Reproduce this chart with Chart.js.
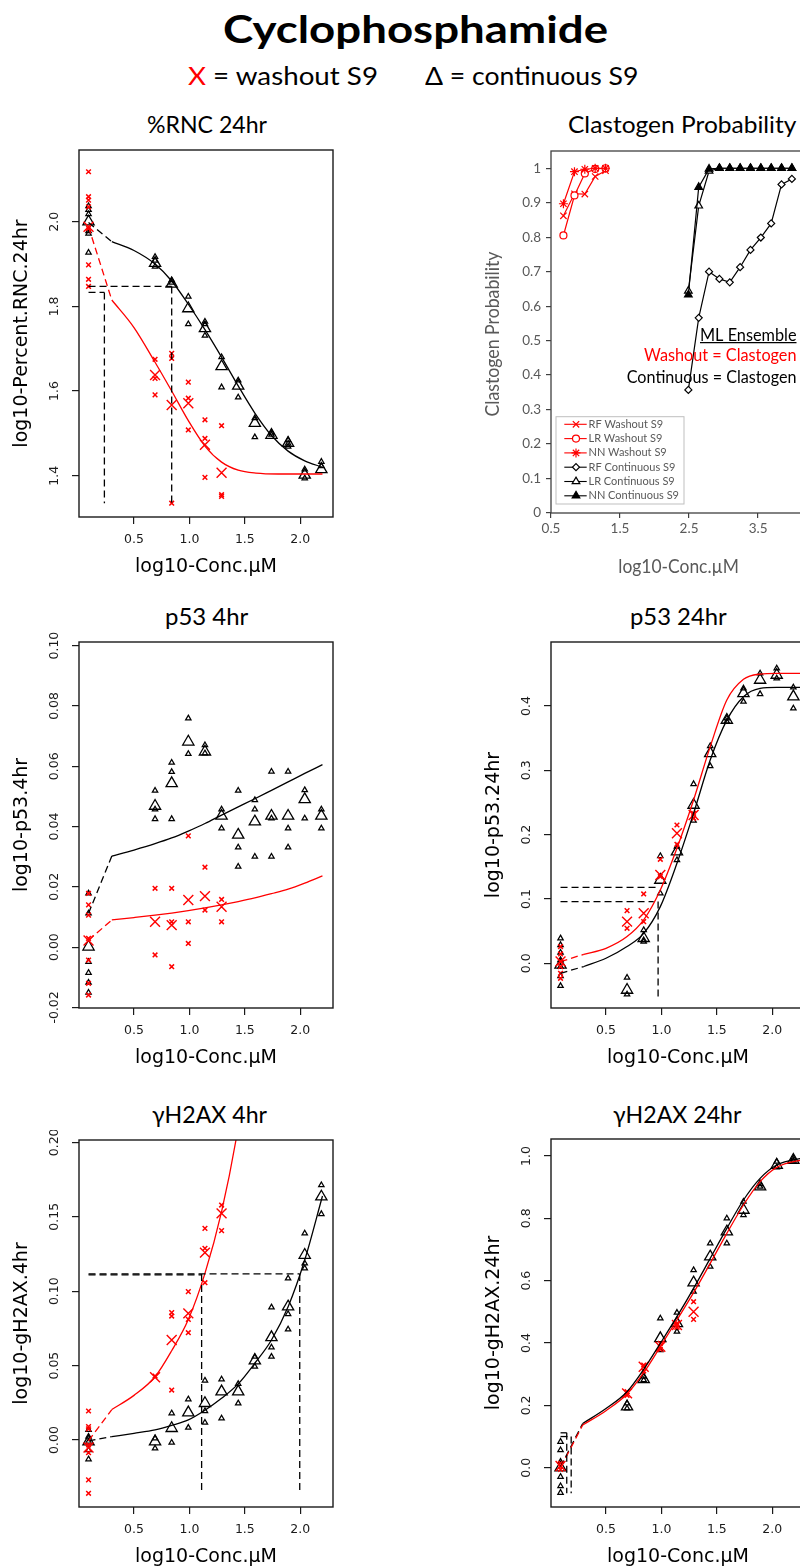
<!DOCTYPE html>
<html>
<head>
<meta charset="utf-8">
<title>Cyclophosphamide</title>
<script src="https://cdn.jsdelivr.net/npm/chart.js@4.4.1/dist/chart.umd.min.js"></script>
<style>
  html, body { margin: 0; padding: 0; background: #fff; }
  body { position: relative; width: 800px; height: 1568px; overflow: hidden; font-family: Lato, "Open Sans", sans-serif; color: #000; }
  .txt { position: absolute; white-space: nowrap; line-height: 1; transform-origin: 0 0; }
  .probe { display: inline-block; width: 0; height: 0; }
  canvas { position: absolute; }
</style>
</head>
<body>
<canvas id="rnc"></canvas>
<canvas id="clast"></canvas>
<canvas id="p53a"></canvas>
<canvas id="p53b"></canvas>
<canvas id="h2axa"></canvas>
<canvas id="h2axb"></canvas>
<script>
const RED = '#ff0000';

// shared x ticks of the R panels (log10 conc, uM)
const concTickLabels = ['0.5', '1.0', '1.5', '2.0'];

// ---- %RNC 24hr ----
const rncYTickLabels = ['1.4', '1.6', '1.8', '2.0'];
const rncContReps = [[0.09,2.037],[0.09,2.028],[0.09,2.018],[0.09,1.978],[0.09,1.972],[0.09,1.927],[0.69,1.917],[0.69,1.908],[0.69,1.894],[0.84,1.862],[0.84,1.856],[0.99,1.823],[0.99,1.758],[1.14,1.764],[1.14,1.758],[1.14,1.731],[1.29,1.680],[1.29,1.609],[1.44,1.625],[1.44,1.585],[1.59,1.536],[1.59,1.491],[1.74,1.502],[1.74,1.497],[1.89,1.484],[1.89,1.476],[1.89,1.469],[2.04,1.415],[2.04,1.394],[2.19,1.433],[2.19,1.423]];
const rncContMeans = [[0.09,2.0],[0.69,1.902],[0.84,1.853],[0.99,1.795],[1.14,1.748],[1.29,1.658],[1.44,1.612],[1.59,1.524],[1.74,1.496],[1.89,1.477],[2.04,1.402],[2.19,1.415]];
const rncWashReps = [[0.09,2.118],[0.09,2.059],[0.09,2.051],[0.09,2.035],[0.09,1.984],[0.09,1.898],[0.09,1.864],[0.09,1.847],[0.69,1.675],[0.69,1.630],[0.69,1.591],[0.84,1.689],[0.84,1.677],[0.84,1.335],[0.99,1.621],[0.99,1.583],[0.99,1.508],[1.14,1.532],[1.14,1.488],[1.14,1.396],[1.29,1.518],[1.29,1.355],[1.29,1.351]];
const rncWashMeans = [[0.09,1.988],[0.69,1.638],[0.84,1.567],[0.99,1.571],[1.14,1.473],[1.29,1.407]];
const rncContFit = [[0.3,1.953],[0.5,1.932],[0.69,1.900],[0.84,1.860],[0.99,1.805],[1.14,1.745],[1.29,1.680],[1.44,1.612],[1.59,1.548],[1.74,1.495],[1.89,1.458],[2.04,1.435],[2.2,1.420]];
const rncWashFit = [[0.3,1.815],[0.5,1.750],[0.69,1.668],[0.84,1.600],[0.99,1.530],[1.14,1.470],[1.29,1.432],[1.44,1.413],[1.6,1.406],[1.8,1.404],[2.2,1.404]];
const rncContLow = [[0.09,1.998],[0.3,1.953]];
const rncWashLow = [[0.09,1.988],[0.3,1.815]];
const rncRefLines = [[[0.09,1.847],[0.84,1.847]],[[0.09,1.833],[0.233,1.833]],[[0.233,1.833],[0.233,1.335]],[[0.84,1.847],[0.84,1.335]]];

// ---- p53 4hr ----
const p53aYTickLabels = ['-0.02', '0.00', '0.02', '0.04', '0.06', '0.08', '0.10'];
const p53aContReps = [[0.09,0.0178],[0.09,0.0112],[0.09,-0.0049],[0.09,-0.0085],[0.09,-0.0118],[0.09,-0.0151],[0.69,0.0519],[0.69,0.0457],[0.69,0.0425],[0.84,0.0612],[0.84,0.0581],[0.84,0.0425],[0.99,0.0759],[0.99,0.0641],[1.14,0.0670],[1.14,0.0643],[1.29,0.0457],[1.29,0.0394],[1.44,0.0519],[1.44,0.0331],[1.44,0.0267],[1.59,0.0488],[1.59,0.0457],[1.59,0.0300],[1.74,0.0582],[1.74,0.0427],[1.74,0.0300],[1.89,0.0582],[1.89,0.0394],[1.89,0.0331],[2.04,0.0521],[2.04,0.0427],[2.19,0.0457],[2.19,0.0394]];
const p53aContMeans = [[0.09,0.0001],[0.69,0.0468],[0.84,0.0543],[0.99,0.0681],[1.14,0.0648],[1.29,0.0435],[1.44,0.0372],[1.59,0.0416],[1.74,0.0435],[1.89,0.0435],[2.04,0.0490],[2.19,0.0435]];
const p53aWashReps = [[0.09,0.0178],[0.09,0.0140],[0.09,0.0106],[0.09,0.0029],[0.09,-0.0043],[0.09,-0.0120],[0.09,-0.0159],[0.69,0.0195],[0.69,-0.0026],[0.84,0.0195],[0.84,0.0084],[0.84,-0.0065],[0.99,0.0369],[0.99,0.0084],[0.99,0.0012],[1.14,0.0265],[1.14,0.0123],[1.29,0.0158],[1.29,0.0084]];
const p53aWashMeans = [[0.09,0.0022],[0.69,0.0084],[0.84,0.0073],[0.99,0.0156],[1.14,0.0169],[1.29,0.0134]];
const p53aContFit = [[0.3,0.0302],[0.5,0.0322],[0.69,0.0343],[0.84,0.0362],[0.99,0.0385],[1.14,0.0410],[1.29,0.0438],[1.44,0.0465],[1.59,0.0492],[1.74,0.0520],[1.89,0.0548],[2.04,0.0576],[2.2,0.0605]];
const p53aWashFit = [[0.3,0.0090],[0.5,0.0098],[0.69,0.0106],[0.84,0.0113],[0.99,0.0121],[1.14,0.0130],[1.29,0.0140],[1.44,0.0151],[1.59,0.0163],[1.74,0.0177],[1.89,0.0192],[2.04,0.0212],[2.2,0.0236]];
const p53aContLow = [[0.09,0.0112],[0.3,0.0302]];
const p53aWashLow = [[0.09,0.0023],[0.3,0.0090]];
const p53aRefLines = [];

// ---- p53 24hr ----
const p53bYTickLabels = ['0.0', '0.1', '0.2', '0.3', '0.4'];
const p53bContReps = [[0.09,0.0389],[0.09,0.0285],[0.09,0.0166],[0.09,0.0052],[0.09,-0.0052],[0.09,-0.0197],[0.09,-0.0352],[0.69,-0.0223],[0.69,-0.0482],[0.84,0.0518],[0.84,0.0360],[0.84,0.0337],[0.99,0.1668],[0.99,0.1088],[1.14,0.1813],[1.14,0.1606],[1.29,0.2788],[1.29,0.2218],[1.44,0.3378],[1.44,0.3067],[1.59,0.3808],[1.59,0.3756],[1.74,0.4275],[1.74,0.4067],[1.89,0.4508],[1.89,0.4187],[2.04,0.4585],[2.04,0.4430],[2.19,0.4290],[2.19,0.3964]];
const p53bContMeans = [[0.09,-0.0026],[0.69,-0.0415],[0.84,0.0389],[0.99,0.1295],[1.14,0.1736],[1.29,0.2461],[1.44,0.3264],[1.59,0.3782],[1.74,0.4197],[1.89,0.4404],[2.04,0.4482],[2.19,0.4145]];
const p53bWashReps = [[0.09,0.0260],[0.09,0.0145],[0.09,0.0026],[0.09,-0.0052],[0.09,-0.0155],[0.09,-0.0233],[0.69,0.0819],[0.69,0.0544],[0.84,0.1078],[0.84,0.0648],[0.99,0.1617],[0.99,0.1347],[1.14,0.2150],[1.14,0.1850],[1.29,0.2332],[1.29,0.2254]];
const p53bWashMeans = [[0.09,0.0030],[0.69,0.0648],[0.84,0.0777],[0.99,0.1373],[1.14,0.2021],[1.29,0.2306]];
const p53bContFit = [[0.3,-0.0050],[0.5,0.0078],[0.69,0.0260],[0.84,0.0466],[0.99,0.0881],[1.14,0.1554],[1.29,0.2332],[1.44,0.3160],[1.59,0.3780],[1.74,0.4145],[1.89,0.4275],[2.04,0.4290],[2.3,0.4290]];
const p53bWashFit = [[0.3,0.0140],[0.5,0.0233],[0.69,0.0415],[0.84,0.0674],[0.99,0.1140],[1.14,0.1788],[1.29,0.2539],[1.44,0.3368],[1.59,0.4093],[1.74,0.4415],[1.89,0.4497],[2.04,0.4508],[2.3,0.4508]];
const p53bContLow = [[0.09,-0.0155],[0.3,-0.0050]];
const p53bWashLow = [[0.09,0.0026],[0.3,0.0140]];
const p53bRefLines = [[[0.09,0.1181],[0.97,0.1181]],[[0.09,0.0959],[0.93,0.0959]],[[0.97,0.0959],[0.97,-0.052]]];

// ---- gH2AX 4hr ----
const h2axaYTickLabels = ['0.00', '0.05', '0.10', '0.15', '0.20'];
const h2axaContReps = [[0.09,0.0068],[0.09,0.0023],[0.09,-0.0011],[0.09,-0.0067],[0.09,-0.0129],[0.69,0.0012],[0.69,-0.0056],[0.84,0.0180],[0.84,-0.0017],[0.99,0.0274],[0.99,0.0083],[1.14,0.0400],[1.14,0.0195],[1.14,0.0117],[1.29,0.0408],[1.29,0.0146],[1.44,0.0377],[1.44,0.0247],[1.59,0.0560],[1.59,0.0493],[1.74,0.0892],[1.74,0.0623],[1.74,0.0560],[1.89,0.1086],[1.89,0.0847],[1.89,0.0744],[2.04,0.1389],[2.04,0.1187],[2.04,0.1154],[2.19,0.1713],[2.19,0.1519]];
const h2axaContMeans = [[0.09,-0.0011],[0.69,-0.0011],[0.84,0.0079],[0.99,0.0184],[1.14,0.0247],[1.29,0.0325],[1.44,0.0325],[1.59,0.0533],[1.74,0.0690],[1.89,0.0896],[2.04,0.1243],[2.19,0.1635]];
const h2axaWashReps = [[0.09,0.0195],[0.09,0.0090],[0.09,0.0075],[0.09,-0.0033],[0.09,-0.0085],[0.09,-0.0268],[0.09,-0.0358],[0.69,0.0430],[0.84,0.0856],[0.84,0.0833],[0.84,0.0336],[0.99,0.0997],[0.99,0.0811],[0.99,0.0721],[1.14,0.1422],[1.14,0.1288],[1.14,0.1057],[1.29,0.1579],[1.29,0.1407]];
const h2axaWashMeans = [[0.09,-0.0050],[0.69,0.0422],[0.84,0.0672],[0.99,0.0851],[1.14,0.1259],[1.29,0.1523]];
const h2axaContFit = [[0.3,0.0023],[0.5,0.0045],[0.69,0.0068],[0.84,0.0098],[0.99,0.0135],[1.14,0.0200],[1.29,0.0280],[1.44,0.0377],[1.59,0.0516],[1.74,0.0672],[1.89,0.0896],[2.04,0.1210],[2.2,0.1640]];
const h2axaWashFit = [[0.3,0.0205],[0.5,0.0300],[0.69,0.0425],[0.84,0.0600],[0.99,0.0810],[1.14,0.1120],[1.29,0.1535],[1.42,0.2016],[1.47,0.2260]];
const h2axaContLow = [[0.09,-0.0005],[0.3,0.0023]];
const h2axaWashLow = [[0.09,-0.0005],[0.3,0.0205]];
const h2axaRefLines = [[[0.09,0.1116],[1.995,0.1116]],[[0.09,0.1110],[1.11,0.1110]],[[1.11,0.1116],[1.11,-0.0358]],[[1.995,0.1116],[1.995,-0.0358]]];

// ---- gH2AX 24hr ----
const h2axbYTickLabels = ['0.0', '0.2', '0.4', '0.6', '0.8', '1.0'];
const h2axbContReps = [[0.09,0.0834],[0.09,0.0567],[0.09,0.0193],[0.09,-0.0289],[0.09,-0.0588],[0.09,-0.0802],[0.69,0.2064],[0.69,0.1904],[0.84,0.2920],[0.84,0.2813],[0.99,0.4791],[0.99,0.3775],[1.14,0.4973],[1.14,0.4364],[1.29,0.6342],[1.29,0.5647],[1.44,0.7198],[1.44,0.6449],[1.59,0.8000],[1.59,0.7198],[1.74,0.8535],[1.74,0.8107],[1.89,0.9102],[1.89,0.9016],[2.04,0.9818],[2.04,0.9636],[2.19,0.9925],[2.19,0.9850]];
const h2axbContMeans = [[0.09,0.0],[0.69,0.1957],[0.84,0.2834],[0.99,0.4150],[1.14,0.4630],[1.29,0.5936],[1.44,0.6770],[1.59,0.7572],[1.74,0.8267],[1.89,0.9016],[2.04,0.9711],[2.19,0.9872]];
const h2axbWashReps = [[0.09,0.0139],[0.09,0.0050],[0.09,-0.0053],[0.69,0.2439],[0.69,0.2320],[0.84,0.3294],[0.84,0.3102],[0.99,0.3990],[0.99,0.3797],[1.14,0.4630],[1.14,0.4500],[1.29,0.5326],[1.29,0.4759]];
const h2axbWashMeans = [[0.09,0.0053],[0.69,0.2385],[0.84,0.3241],[0.99,0.3882],[1.14,0.4577],[1.29,0.5005]];
const h2axbContFit = [[0.29,0.142],[0.5,0.190],[0.69,0.2439],[0.84,0.3155],[0.99,0.3990],[1.14,0.4845],[1.29,0.5754],[1.44,0.6717],[1.59,0.7679],[1.74,0.8588],[1.89,0.9283],[2.04,0.9711],[2.3,0.9950]];
const h2axbWashFit = [[0.29,0.137],[0.5,0.1829],[0.69,0.2364],[0.84,0.3048],[0.99,0.3882],[1.14,0.4738],[1.29,0.5615],[1.44,0.6556],[1.59,0.7519],[1.74,0.8428],[1.89,0.9176],[2.04,0.9636],[2.3,0.9900]];
const h2axbContLow = [[0.09,0.003],[0.29,0.142]];
const h2axbWashLow = [[0.09,0.0],[0.29,0.137]];
const h2axbRefLines = [[[0.09,0.112],[0.146,0.112]],[[0.146,0.112],[0.146,-0.082]],[[0.09,0.100],[0.186,0.100]],[[0.186,0.100],[0.186,-0.082]]];

// ---- Clastogen probability (ML ensemble) ----
const clastXTickLabels = ['0.5', '1.5', '2.5', '3.5'];
const clastYTickLabels = ['0', '0.1', '0.2', '0.3', '0.4', '0.5', '0.6', '0.7', '0.8', '0.9', '1'];
const clastSeriesNames = ['RF Washout S9', 'LR Washout S9', 'NN Washout S9', 'RF Continuous S9', 'LR Continuous S9', 'NN Continuous S9'];
const clastWashConc = [0.68, 0.84, 0.99, 1.14, 1.29];
const clastRFWash = [0.862, 0.926, 0.925, 0.976, 0.993];
const clastLRWash = [0.805, 0.921, 0.985, 0.998, 1.0];
const clastNNWash = [0.897, 0.990, 0.997, 1.0, 1.0];
const clastContConc = [2.49, 2.64, 2.79, 2.94, 3.09, 3.24, 3.39, 3.54, 3.69, 3.84, 3.99];
const clastRFCont = [0.357, 0.566, 0.700, 0.679, 0.669, 0.713, 0.763, 0.799, 0.840, 0.953, 0.969];
const clastLRCont = [0.644, 0.891, 0.992, 1.0, 1.0, 1.0, 1.0, 1.0, 1.0, 1.0, 1.0];
const clastNNCont = [0.633, 0.945, 0.998, 1.0, 1.0, 1.0, 1.0, 1.0, 1.0, 1.0, 1.0];

// ------------------------------------------------------------------
const X_RANGE = [0.004, 2.295];

function pts(arr) { return arr.map(p => ({ x: p[0], y: p[1] })); }

// canvas sits 78px left of / 10px above the plot box
function place(cv, b) {
  cv.width = b.w + 88;
  cv.height = b.h + 80;
  cv.style.left = (b.l - 78) + 'px';
  cv.style.top = (b.t - 10) + 'px';
}

function axis(min, max, labels, size, tick, color) {
  return {
    type: 'linear', min: min, max: max,
    afterBuildTicks: s => { s.ticks = labels.map(t => ({ value: parseFloat(t) })); },
    afterFit: s => { if (s.isHorizontal()) s.height = size; else s.width = size; },
    ticks: { display: false },
    grid: { drawOnChartArea: false, drawTicks: true, tickLength: tick, color: color, lineWidth: 1.2 },
    border: { display: false }
  };
}

function markDs(data, color, style, r, bw) {
  return { data: pts(data), showLine: false, pointStyle: style, pointRadius: r, pointHoverRadius: r,
           pointBorderColor: color, pointBackgroundColor: 'rgba(0,0,0,0)', pointBorderWidth: bw, borderColor: color };
}

function lineDs(data, color, dash, smooth) {
  return { data: pts(data), showLine: true, borderColor: color, borderWidth: 1.3, borderDash: dash,
           pointRadius: 0, pointHoverRadius: 0, tension: smooth ? 0.4 : 0,
           cubicInterpolationMode: smooth ? 'monotone' : 'default' };
}

function fitText(ctx, str, x, y, width, align) {
  const w = ctx.measureText(str).width;
  ctx.save();
  ctx.translate(x, y);
  ctx.scale(width / w, 1);
  ctx.textAlign = align;
  ctx.fillText(str, 0, 0);
  ctx.restore();
}

// box, rotated y tick labels and axis titles in the R style
function rDecor(yTitle, yLabels) {
  return {
    id: 'rDecor',
    afterDraw(chart) {
      const { ctx, chartArea: a, scales: { x, y } } = chart;
      ctx.save();
      ctx.strokeStyle = '#1a1a1a';
      ctx.lineWidth = 1.4;
      ctx.strokeRect(a.left, a.top, a.right - a.left, a.bottom - a.top);
      ctx.fillStyle = '#1a1a1a';
      ctx.textAlign = 'center';
      ctx.textBaseline = 'middle';
      ctx.font = '12.5px "DejaVu Sans"';
      concTickLabels.forEach(t => ctx.fillText(t, x.getPixelForValue(parseFloat(t)), a.bottom + 23));
      yLabels.forEach(t => {
        ctx.save();
        ctx.translate(a.left - 24, y.getPixelForValue(parseFloat(t)));
        ctx.rotate(-Math.PI / 2);
        ctx.fillText(t, 0, 0);
        ctx.restore();
      });
      ctx.fillStyle = '#000';
      ctx.font = '19px "DejaVu Sans"';
      ctx.fillText('log10-Conc.µM', (a.left + a.right) / 2, a.bottom + 50);
      ctx.translate(a.left - 57, (a.top + a.bottom) / 2);
      ctx.rotate(-Math.PI / 2);
      ctx.fillText(yTitle, 0, 0);
      ctx.restore();
    }
  };
}

function rPanel(id, box, yMin, yMax, yLabels, yTitle, s) {
  const cv = document.getElementById(id);
  place(cv, box);
  const dash = [7, 4];
  const datasets = s.refs.map(seg => lineDs(seg, '#000', dash, false));
  datasets.push(
    lineDs(s.washFit, RED, [], true),
    lineDs(s.washLow, RED, dash, false),
    lineDs(s.contFit, '#000', [], true),
    lineDs(s.contLow, '#000', dash, false),
    markDs(s.washMeans, RED, 'crossRot', 7, 1.4),
    markDs(s.washReps, RED, 'crossRot', 3.3, 1.5),
    markDs(s.contMeans, '#000', 'triangle', 6.5, 1.3),
    markDs(s.contReps, '#000', 'triangle', 3.1, 1.25)
  );
  return new Chart(cv, {
    type: 'scatter',
    data: { datasets: datasets },
    options: {
      responsive: false,
      animation: false,
      events: [],
      layout: { padding: { left: 0, top: 10, right: 10, bottom: 0 } },
      plugins: { legend: { display: false }, tooltip: { enabled: false } },
      scales: {
        x: axis(X_RANGE[0], X_RANGE[1], concTickLabels, 70, 7, '#1a1a1a'),
        y: axis(yMin, yMax, yLabels, 78, 7, '#1a1a1a')
      }
    },
    plugins: [rDecor(yTitle, yLabels)]
  });
}

function clastDecor(b) {
  const ox = b.l - 78, oy = b.t - 10;   // page -> canvas offset
  return {
    id: 'clastDecor',
    afterDraw(chart) {
      const { ctx, chartArea: a, scales: { x, y } } = chart;
      ctx.save();
      ctx.strokeStyle = '#404040';
      ctx.lineWidth = 1.3;
      ctx.strokeRect(a.left, a.top, a.right - a.left, a.bottom - a.top);

      ctx.fillStyle = '#595959';
      ctx.font = '13.5px Lato';
      ctx.textBaseline = 'middle';
      ctx.textAlign = 'right';
      clastYTickLabels.forEach(t => ctx.fillText(t, a.left - 10, y.getPixelForValue(parseFloat(t))));
      ctx.textAlign = 'center';
      clastXTickLabels.forEach(t => ctx.fillText(t, x.getPixelForValue(parseFloat(t)), a.bottom + 16));

      ctx.font = '18.5px Lato';
      ctx.textBaseline = 'alphabetic';
      fitText(ctx, 'log10-Conc.µM', 678.7 - ox, 573.3 - oy, 120.7, 'center');
      ctx.save();
      ctx.translate(493 - ox, 334 - oy);
      ctx.rotate(-Math.PI / 2);
      ctx.textBaseline = 'middle';
      fitText(ctx, 'Clastogen Probability', 0, 0, 165, 'center');
      ctx.restore();

      // legend box
      const lx = 556 - ox, ly = 416.7 - oy;
      ctx.fillStyle = '#fff';
      ctx.fillRect(lx, ly, 128, 87.3);
      ctx.strokeStyle = '#bfbfbf';
      ctx.lineWidth = 1;
      ctx.strokeRect(lx, ly, 128, 87.3);
      ctx.font = '11px Lato';
      ctx.textAlign = 'left';
      ctx.textBaseline = 'middle';
      chart.data.datasets.forEach((ds, i) => {
        const yy = 424.3 - oy + i * 14.3;
        ctx.strokeStyle = ds.borderColor;
        ctx.lineWidth = 1.1;
        ctx.beginPath();
        ctx.moveTo(564.3 - ox, yy);
        ctx.lineTo(586.7 - ox, yy);
        ctx.stroke();
        if (Chart.helpers && Chart.helpers.drawPoint) {
          ctx.fillStyle = ds.pointBackgroundColor;
          ctx.strokeStyle = ds.pointBorderColor;
          ctx.lineWidth = ds.pointBorderWidth;
          Chart.helpers.drawPoint(ctx, { pointStyle: ds.pointStyle, radius: ds.pointRadius, rotation: 0, borderWidth: ds.pointBorderWidth }, 576 - ox, yy);
        }
        ctx.fillStyle = '#595959';
        ctx.fillText(clastSeriesNames[i], 588.5 - ox, yy);
      });

      // ensemble call
      ctx.font = '17px Lato';
      ctx.textBaseline = 'alphabetic';
      ctx.fillStyle = '#000';
      fitText(ctx, 'ML Ensemble', 796.5 - ox, 340.7 - oy, 96.5, 'right');
      ctx.strokeStyle = '#000';
      ctx.lineWidth = 1.2;
      ctx.beginPath();
      ctx.moveTo(700 - ox, 342.6 - oy);
      ctx.lineTo(796.5 - ox, 342.6 - oy);
      ctx.stroke();
      ctx.fillStyle = RED;
      fitText(ctx, 'Washout = Clastogen', 796.5 - ox, 360.7 - oy, 152.5, 'right');
      ctx.fillStyle = '#000';
      fitText(ctx, 'Continuous = Clastogen', 796.5 - ox, 382.7 - oy, 169.8, 'right');
      ctx.restore();
    }
  };
}

function clastPanel(b) {
  const cv = document.getElementById('clast');
  place(cv, b);
  const zip = (xs, ys) => xs.map((x, i) => ({ x: x, y: ys[i] }));
  const styles = [
    [zip(clastWashConc, clastRFWash), RED, 'crossRot', 4.5, RED],
    [zip(clastWashConc, clastLRWash), RED, 'circle', 3.5, '#fff'],
    [zip(clastWashConc, clastNNWash), RED, 'star', 4.5, RED],
    [zip(clastContConc, clastRFCont), '#000', 'rectRot', 3.5, '#fff'],
    [zip(clastContConc, clastLRCont), '#000', 'triangle', 4.4, '#fff'],
    [zip(clastContConc, clastNNCont), '#000', 'triangle', 4.4, '#000']
  ];
  const datasets = styles.map((s, i) => ({
    data: s[0], showLine: true, borderColor: s[1], borderWidth: 1.2, tension: 0,
    pointStyle: s[2], pointRadius: s[3], pointHoverRadius: s[3],
    pointBorderColor: s[1], pointBackgroundColor: s[4], pointBorderWidth: 1.2,
    order: 10 - i
  }));
  return new Chart(cv, {
    type: 'scatter',
    data: { datasets: datasets },
    options: {
      responsive: false,
      animation: false,
      events: [],
      layout: { padding: { left: 0, top: 10, right: 10, bottom: 0 } },
      plugins: { legend: { display: false }, tooltip: { enabled: false } },
      scales: {
        x: axis(0.5, 4.18, clastXTickLabels, 70, 5, '#404040'),
        y: axis(0, 1.05, clastYTickLabels, 78, 5, '#404040')
      }
    },
    plugins: [clastDecor(b)]
  });
}

// page text, stretched to the measured width of the original lettering
function addText(html, left, right, baseline, size, weight) {
  const d = document.createElement('div');
  d.className = 'txt';
  d.style.fontSize = size + 'px';
  d.style.fontWeight = weight || 400;
  d.innerHTML = html;
  const probe = document.createElement('span');
  probe.className = 'probe';
  d.appendChild(probe);
  document.body.appendChild(d);
  const r = d.getBoundingClientRect();
  const base = probe.getBoundingClientRect().top - r.top;
  d.style.left = left + 'px';
  d.style.top = (baseline - base) + 'px';
  d.style.transform = 'scaleX(' + ((right - left) / r.width).toFixed(4) + ')';
}

addText('Cyclophosphamide', 223.3, 608.3, 43, 38, 700);
addText('<span style="color:#ff0000">X</span> = washout S9', 188.3, 378.3, 85, 25);
addText('Δ = continuous S9', 425, 638.3, 85, 25);
addText('%RNC 24hr', 146.7, 266.7, 133.3, 23);
addText('Clastogen Probability', 568.3, 796.7, 132.7, 23);
addText('p53 4hr', 165, 248.3, 625, 23);
addText('p53 24hr', 630, 726.7, 625, 23);
addText('γH2AX 4hr', 151.7, 266.7, 1123.3, 23);
addText('γH2AX 24hr', 613.3, 741.7, 1123.3, 23);

rPanel('rnc', { l: 79, t: 150, w: 254, h: 367 }, 1.3024, 2.1694, rncYTickLabels, 'log10-Percent.RNC.24hr', {
  contReps: rncContReps, contMeans: rncContMeans, washReps: rncWashReps, washMeans: rncWashMeans,
  contFit: rncContFit, washFit: rncWashFit, contLow: rncContLow, washLow: rncWashLow, refs: rncRefLines
});
clastPanel({ l: 551, t: 151, w: 254, h: 362 });
rPanel('p53a', { l: 79, t: 642, w: 254, h: 366 }, -0.0202, 0.1012, p53aYTickLabels, 'log10-p53.4hr', {
  contReps: p53aContReps, contMeans: p53aContMeans, washReps: p53aWashReps, washMeans: p53aWashMeans,
  contFit: p53aContFit, washFit: p53aWashFit, contLow: p53aContLow, washLow: p53aWashLow, refs: p53aRefLines
});
rPanel('p53b', { l: 551, t: 642, w: 254, h: 366 }, -0.0695, 0.4995, p53bYTickLabels, 'log10-p53.24hr', {
  contReps: p53bContReps, contMeans: p53bContMeans, washReps: p53bWashReps, washMeans: p53bWashMeans,
  contFit: p53bContFit, washFit: p53bWashFit, contLow: p53bContLow, washLow: p53bWashLow, refs: p53bRefLines
});
rPanel('h2axa', { l: 79, t: 1140, w: 254, h: 367 }, -0.045, 0.2016, h2axaYTickLabels, 'log10-gH2AX.4hr', {
  contReps: h2axaContReps, contMeans: h2axaContMeans, washReps: h2axaWashReps, washMeans: h2axaWashMeans,
  contFit: h2axaContFit, washFit: h2axaWashFit, contLow: h2axaContLow, washLow: h2axaWashLow, refs: h2axaRefLines
});
rPanel('h2axb', { l: 551, t: 1139, w: 254, h: 368 }, -0.126, 1.0545, h2axbYTickLabels, 'log10-gH2AX.24hr', {
  contReps: h2axbContReps, contMeans: h2axbContMeans, washReps: h2axbWashReps, washMeans: h2axbWashMeans,
  contFit: h2axbContFit, washFit: h2axbWashFit, contLow: h2axbContLow, washLow: h2axbWashLow, refs: h2axbRefLines
});
</script>
</body>
</html>
